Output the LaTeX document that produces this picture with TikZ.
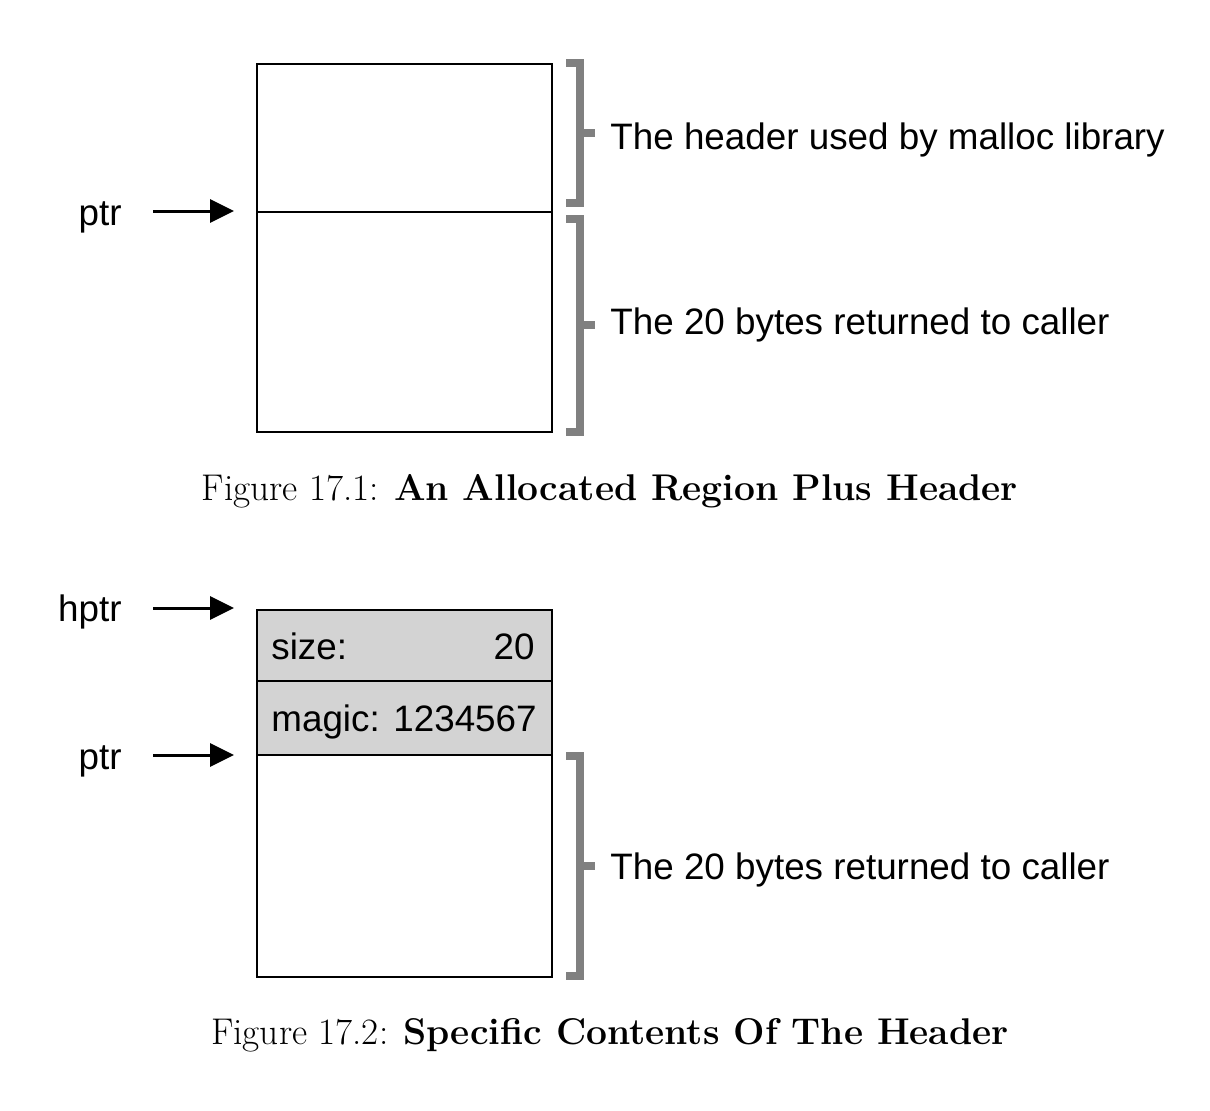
\documentclass[tikz,border=0pt]{standalone}
\usepackage{fontspec}
\newfontfamily\lsans{Liberation Sans}
\usetikzlibrary{arrows.meta}
\definecolor{brk}{RGB}{128,128,128}
\definecolor{hdr}{RGB}{211,211,211}
\begin{document}
\begin{tikzpicture}[x=0.5pt,y=-0.5pt,
  lbl/.style={font=\lsans\fontsize{18.4pt}{22pt}\selectfont, inner sep=0pt, anchor=base west},
  lblr/.style={lbl, anchor=base east},
  cell/.style={draw, line width=1.1pt, minimum width=147.5pt, inner sep=0pt, anchor=north west},
  ptrarrow/.style={-{Triangle[length=12pt,width=11.5pt]}, line width=1.5pt},
  bracket/.style={draw=brk, line width=4pt, line join=miter},
  captext/.style={font=\fontsize{18.6pt}{22pt}\selectfont, inner sep=0pt, anchor=base}
]
\useasboundingbox (0,0) rectangle (1210,1110);

% ---------- Figure 17.1 ----------
\node[cell, minimum height=74pt] (hdr1) at (256,63) {};
\node[cell, minimum height=110pt] (data1) at (256,211) {};

\coordinate (p1s) at (153,211);
\coordinate (p1t) at (234,211);
\node[lblr] (ptr1) at (122,225) {ptr};
\draw[ptrarrow] (p1s) -- (p1t);

\coordinate (b1a) at (566,63);
\coordinate (b1b) at (580,63);
\coordinate (b1c) at (580,203);
\coordinate (b1d) at (566,203);
\coordinate (b1m) at (580,133);
\coordinate (b1t) at (595,133);
\draw[bracket] (b1a) -- (b1b) -- (b1c) -- (b1d);
\draw[bracket] (b1m) -- (b1t);
\node[lbl] (t1) at (610,149) {The header used by malloc library};

\coordinate (b2a) at (566,218.5);
\coordinate (b2b) at (580,218.5);
\coordinate (b2c) at (580,431.5);
\coordinate (b2d) at (566,431.5);
\coordinate (b2m) at (580,325);
\coordinate (b2t) at (595,325);
\draw[bracket] (b2a) -- (b2b) -- (b2c) -- (b2d);
\draw[bracket] (b2m) -- (b2t);
\node[lbl] (t2) at (610,334) {The 20 bytes returned to caller};

\node[captext] (cap1) at (610,500) {Figure 17.1: \textbf{An Allocated Region Plus Header}};

% ---------- Figure 17.2 ----------
\node[cell, fill=hdr, minimum height=35.5pt] (size) at (256,609) {};
\node[cell, fill=hdr, minimum height=37pt] (magic) at (256,680) {};
\node[cell, minimum height=111pt] (data2) at (256,754) {};

\node[lbl] (sizel) at (271,659) {size:};
\node[lblr] (sizev) at (535,659) {20};
\node[lbl] (magicl) at (271,731) {magic: 1234567};

\coordinate (h2s) at (153,608);
\coordinate (h2t) at (234,608);
\node[lblr] (hptr) at (122,621) {hptr};
\draw[ptrarrow] (h2s) -- (h2t);

\coordinate (p2s) at (153,755);
\coordinate (p2t) at (234,755);
\node[lblr] (ptr2) at (122,769) {ptr};
\draw[ptrarrow] (p2s) -- (p2t);

\coordinate (b3a) at (566,755.5);
\coordinate (b3b) at (580,755.5);
\coordinate (b3c) at (580,976);
\coordinate (b3d) at (566,976);
\coordinate (b3m) at (580,866);
\coordinate (b3t) at (595,866);
\draw[bracket] (b3a) -- (b3b) -- (b3c) -- (b3d);
\draw[bracket] (b3m) -- (b3t);
\node[lbl] (t3) at (610,879) {The 20 bytes returned to caller};

\node[captext] (cap2) at (610,1044) {Figure 17.2: \textbf{Specific Contents Of The Header}};
\end{tikzpicture}
\end{document}
